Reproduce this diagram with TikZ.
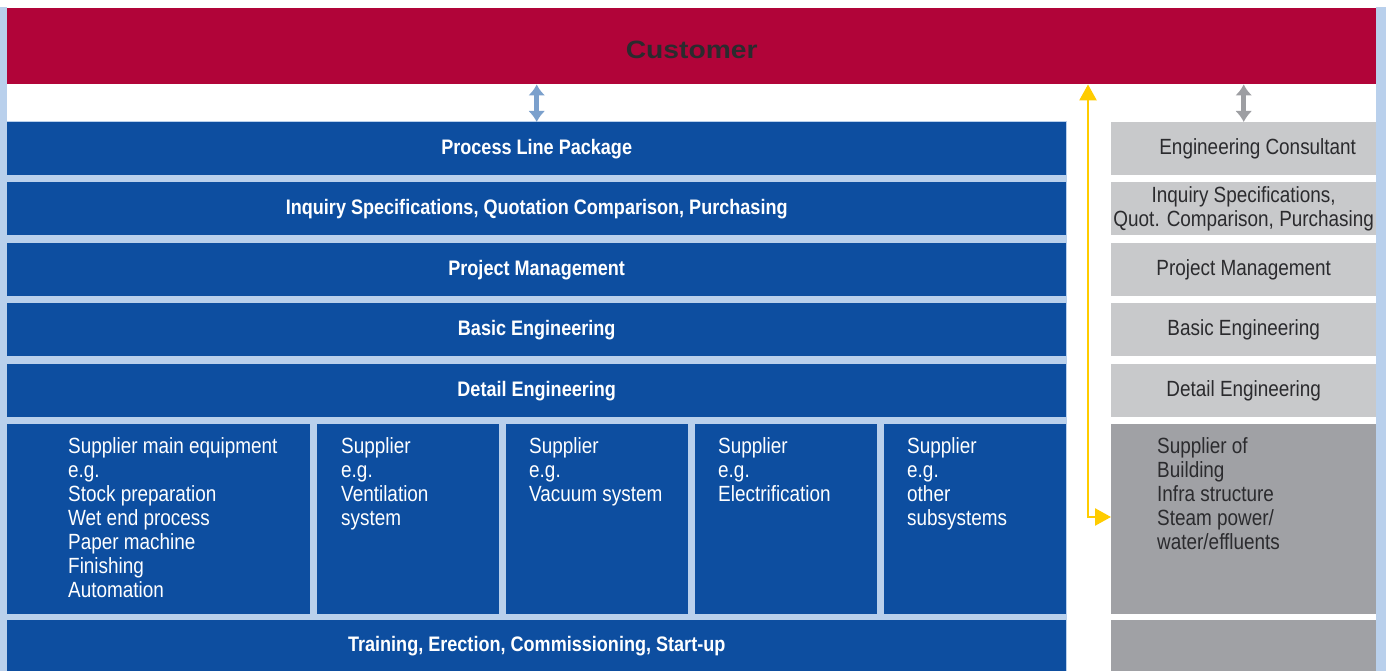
\documentclass[tikz,border=0pt]{standalone}
\usepackage{fontspec}
\setmainfont[FakeStretch=0.86]{Liberation Sans}
\newfontfamily\custfont[FakeStretch=1.13]{Liberation Sans}
\usepackage{tikz}
\usetikzlibrary{positioning,arrows.meta}
\definecolor{custred}{HTML}{B10439}
\definecolor{boxblue}{HTML}{0D4EA0}
\definecolor{paleblue}{HTML}{B9D0EC}
\definecolor{lightgrey}{HTML}{C8C9CB}
\definecolor{darkgrey}{HTML}{A0A1A5}
\definecolor{greytext}{HTML}{2B2B2E}
\definecolor{arrowblue}{HTML}{7BA0CC}
\definecolor{arrowgrey}{HTML}{9D9EA2}
\definecolor{arrowyellow}{HTML}{FFCC00}

\begin{document}
\begin{tikzpicture}[x=1pt,y=-1pt]
\tikzstyle{row}=[rectangle, anchor=north west, inner sep=0pt, minimum width=1059pt, minimum height=53pt, fill=boxblue, text=white, font=\fontsize{21}{24}\selectfont\bfseries]
\tikzstyle{supp}=[rectangle, anchor=north west, inner sep=0pt, minimum width=182pt, minimum height=190pt, fill=boxblue]
\tikzstyle{grey}=[rectangle, anchor=north west, inner sep=0pt, minimum width=265pt, minimum height=53pt, fill=lightgrey, text=greytext, align=center, font=\fontsize{22}{24}\selectfont]
\tikzstyle{txt}=[anchor=north west, inner sep=0pt, align=left, font=\fontsize{22}{24}\selectfont]
\tikzstyle{connect}=[{Latex[length=11pt,width=17pt]}-{Latex[length=11pt,width=17pt]}, line width=5pt]
\useasboundingbox (0,0) rectangle (1386,671);
\fill[white] (0,0) rectangle (1386,671);
\fill[paleblue] (0,7) rectangle (7,671);
\fill[paleblue] (7,121) rectangle (1067,671);
\fill[paleblue] (1376,7) rectangle (1386,671);
	\node[rectangle, anchor=north west, inner sep=0pt, minimum width=1369pt, minimum height=76pt, text height=24pt, fill=custred, text=greytext, font=\custfont\fontsize{25}{30}\selectfont\bfseries] (cust) at (7,8) {Customer};
	% left column
	\node[row] (r_1) at (7,122) {Process Line Package};
	\node[row] (r_2) at (7,182) {Inquiry Specifications, Quotation Comparison, Purchasing};
	\node[row] (r_3) at (7,243) {Project Management};
	\node[row] (r_4) at (7,303) {Basic Engineering};
	\node[row] (r_5) at (7,364) {Detail Engineering};
	\node[supp, minimum width=303pt] (s_1) at (7,424) {};
	\node[supp] (s_2) at (317,424) {};
	\node[supp] (s_3) at (506,424) {};
	\node[supp] (s_4) at (695,424) {};
	\node[supp] (s_5) at (884,424) {};
	\node[row, minimum height=52pt] (r_6) at (7,620) {Training, Erection, Commissioning, Start-up};
	\node[txt, text=white] (st_1) at (68,437) {Supplier main equipment\\e.g.\\Stock preparation\\Wet end process\\Paper machine\\Finishing\\Automation};
	\node[txt, text=white] (st_2) at (341,437) {Supplier\\e.g.\\Ventilation\\system};
	\node[txt, text=white] (st_3) at (529,437) {Supplier\\e.g.\\Vacuum system};
	\node[txt, text=white] (st_4) at (718,437) {Supplier\\e.g.\\Electrification};
	\node[txt, text=white] (st_5) at (907,437) {Supplier\\e.g.\\other\\subsystems};
	% right column
	\node[grey] (g_1) at (1111,122) {\hspace*{28pt}Engineering Consultant};
	\node[grey] (g_2) at (1111,182) {Inquiry Specifications,\\Quot. Comparison, Purchasing};
	\node[grey] (g_3) at (1111,243) {Project Management};
	\node[grey] (g_4) at (1111,303) {Basic Engineering};
	\node[grey] (g_5) at (1111,364) {Detail Engineering};
	\node[grey, minimum height=190pt, fill=darkgrey] (g_s) at (1111,424) {};
	\node[grey, minimum height=52pt, fill=darkgrey] (g_6) at (1111,620) {};
	\node[txt, text=greytext] (gt_s) at (1157,437) {Supplier of\\Building\\Infra structure\\Steam power/\\water/effluents};
	\coordinate (bend) at (1088,517);

	\draw[connect, arrowblue] (r_1.north |- cust.south) -- (r_1.north);
	\draw[connect, arrowgrey] (g_1.north |- cust.south) -- (g_1.north);
	\draw[{Triangle[length=16pt,width=17pt]}-{Triangle[length=16pt,width=17pt]}, line width=2.5pt, arrowyellow] (bend |- cust.south) -- (bend) -- (bend -| g_s.west);
\end{tikzpicture}
\end{document}
